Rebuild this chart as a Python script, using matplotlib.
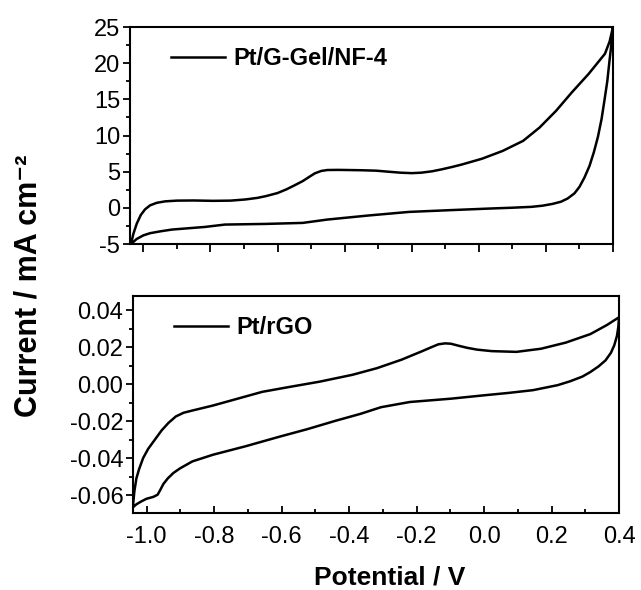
import matplotlib
matplotlib.use("Agg")
import matplotlib.pyplot as plt
from matplotlib.ticker import MultipleLocator

plt.rcParams['font.family'] = ['Liberation Sans', 'DejaVu Sans']
plt.rcParams['axes.unicode_minus'] = False

# Pt/G-Gel/NF-4 CV: forward (anodic) branch, then reverse branch
gel_fwd_v = [-1.037, -1.030, -1.020, -1.008, -0.995, -0.980, -0.960, -0.935, -0.900,
             -0.850, -0.793, -0.740, -0.696, -0.660, -0.635, -0.600, -0.574, -0.550,
             -0.525, -0.505, -0.489, -0.470, -0.452, -0.420, -0.391, -0.350, -0.306,
             -0.270, -0.233, -0.200, -0.172, -0.140, -0.111, -0.080, -0.050, 0.010,
             0.071, 0.132, 0.181, 0.230, 0.278, 0.327, 0.376, 0.390, 0.400]
gel_fwd_i = [-5.0, -3.6, -2.2, -1.0, -0.2, 0.35, 0.7, 0.9, 1.0,
             1.02, 0.97, 1.0, 1.16, 1.38, 1.62, 2.05, 2.55, 3.1,
             3.7, 4.3, 4.77, 5.1, 5.23, 5.25, 5.23, 5.2, 5.14,
             5.0, 4.86, 4.8, 4.86, 5.05, 5.32, 5.65, 6.0, 6.8,
             7.87, 9.26, 11.1, 13.4, 16.0, 18.5, 21.3, 23.0, 25.0]
gel_rev_v = [0.400, 0.395, 0.390, 0.383, 0.375, 0.366, 0.355, 0.343, 0.330, 0.315,
             0.300, 0.285, 0.265, 0.245, 0.220, 0.190, 0.157, 0.100, 0.035,
             -0.087, -0.208, -0.330, -0.452, -0.525, -0.635, -0.757, -0.817, -0.915,
             -0.950, -0.980, -1.000, -1.020, -1.037]
gel_rev_i = [25.0, 22.5, 20.5, 17.5, 15.0, 12.3, 9.8, 7.7, 5.8, 4.2,
             2.9, 2.0, 1.3, 0.85, 0.55, 0.3, 0.14, 0.02, -0.09,
             -0.32, -0.56, -1.06, -1.62, -2.08, -2.22, -2.31, -2.64, -3.0,
             -3.25, -3.5, -3.8, -4.3, -5.0]

# Pt/rGO CV
rgo_fwd_v = [-1.040, -1.036, -1.030, -1.022, -1.010, -0.995, -0.975, -0.955, -0.935,
             -0.913, -0.890, -0.864, -0.803, -0.730, -0.657, -0.584, -0.487, -0.390,
             -0.317, -0.244, -0.183, -0.155, -0.135, -0.115, -0.098, -0.075, -0.050,
             -0.020, 0.023, 0.096, 0.169, 0.242, 0.315, 0.364, 0.400]
rgo_fwd_i = [-0.0657, -0.0580, -0.0510, -0.0460, -0.0400, -0.0350, -0.0300, -0.0250, -0.0210,
             -0.0175, -0.0155, -0.0143, -0.0116, -0.0079, -0.0042, -0.0018, 0.0013, 0.0050,
             0.0086, 0.0132, 0.0178, 0.0200, 0.0215, 0.0220, 0.0218, 0.0207, 0.0196,
             0.0186, 0.0178, 0.0174, 0.0191, 0.0224, 0.0270, 0.0319, 0.0361]
rgo_rev_v = [0.400, 0.398, 0.394, 0.386, 0.376, 0.360, 0.339, 0.315, 0.291, 0.255,
             0.218, 0.145, 0.072, -0.001, -0.098, -0.220, -0.305, -0.366, -0.439,
             -0.524, -0.609, -0.706, -0.803, -0.864, -0.900, -0.920, -0.937, -0.950,
             -0.960, -0.967, -0.980, -1.000, -1.016, -1.030, -1.040]
rgo_rev_i = [0.0361, 0.0310, 0.0261, 0.0210, 0.0169, 0.0128, 0.0095, 0.0065, 0.0040, 0.0015,
             -0.0006, -0.0033, -0.0048, -0.0061, -0.0079, -0.0097, -0.0125, -0.0161, -0.0198,
             -0.0244, -0.0286, -0.0336, -0.0382, -0.0418, -0.0455, -0.0480, -0.0510, -0.0540,
             -0.0575, -0.0598, -0.0610, -0.0620, -0.0635, -0.0650, -0.0666]

x_ticks = [-1.0, -0.8, -0.6, -0.4, -0.2, 0.0, 0.2, 0.4]

fig = plt.figure(figsize=(6.41, 5.90), dpi=100)
ax1 = fig.add_axes([0.2028, 0.5864, 0.7535, 0.3678])
ax2 = fig.add_axes([0.2075, 0.1305, 0.7582, 0.3678])

lw = 1.8
ax1.plot(gel_fwd_v + gel_rev_v, gel_fwd_i + gel_rev_i, color='black', lw=lw, label='Pt/G-Gel/NF-4')
ax2.plot(rgo_fwd_v + rgo_rev_v, rgo_fwd_i + rgo_rev_i, color='black', lw=lw, label='Pt/rGO')

for ax in (ax1, ax2):
    ax.set_xlim(-1.04, 0.4)
    ax.set_xticks(x_ticks)
    ax.xaxis.set_minor_locator(MultipleLocator(0.1))
    for s in ax.spines.values():
        s.set_linewidth(1.5)
    ax.tick_params(axis='y', which='major', direction='out', length=5, width=1.3, labelsize=17, pad=2)
    ax.tick_params(axis='y', which='minor', direction='out', length=3, width=1.3)
    ax.legend(loc='upper left', bbox_to_anchor=(0.05, 0.985), frameon=False, handlelength=2.3,
              handletextpad=0.35, borderpad=0.2, prop={'weight': 'bold', 'size': 17})

ax1.set_ylim(-5, 25)
ax1.set_yticks([-5, 0, 5, 10, 15, 20, 25])
ax1.yaxis.set_minor_locator(MultipleLocator(2.5))
ax1.tick_params(axis='x', which='major', direction='out', length=6, width=1.3, labelbottom=False)
ax1.tick_params(axis='x', which='minor', direction='out', length=3.5, width=1.3)

ax2.set_ylim(-0.0697, 0.0476)
ax2.set_yticks([-0.06, -0.04, -0.02, 0.0, 0.02, 0.04])
ax2.set_yticklabels(['-0.06', '-0.04', '-0.02', '0.00', '0.02', '0.04'])
ax2.yaxis.set_minor_locator(MultipleLocator(0.01))
ax2.set_xticklabels(['-1.0', '-0.8', '-0.6', '-0.4', '-0.2', '0.0', '0.2', '0.4'])
ax2.tick_params(axis='x', which='major', direction='in', length=5, width=1.3, labelsize=17, pad=9)
ax2.tick_params(axis='x', which='minor', direction='in', length=3, width=1.3)

fig.text(0.608, 0.01, 'Potential / V', ha='center', va='baseline', fontsize=19, fontweight='bold')
fig.text(0.045, 0.515, 'Current / mA cm⁻²', ha='center', va='center', rotation=90,
         fontsize=22, fontweight='bold')

fig.savefig('out.png', dpi=100)
